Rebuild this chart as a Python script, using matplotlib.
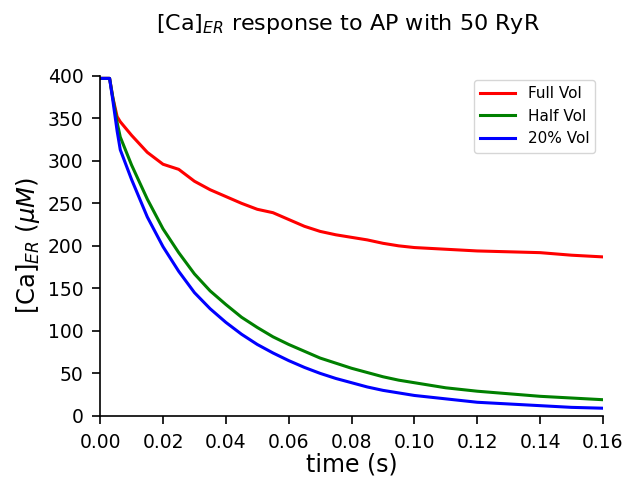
import matplotlib
matplotlib.use("Agg")
import matplotlib.pyplot as plt
import numpy as np

t = [0.0, 0.003, 0.004, 0.0054, 0.0064, 0.01, 0.015, 0.02, 0.025, 0.03, 0.035, 0.04,
     0.045, 0.05, 0.055, 0.06, 0.065, 0.07, 0.075, 0.08, 0.085, 0.09, 0.095, 0.1,
     0.105, 0.11, 0.115, 0.12, 0.13, 0.14, 0.15, 0.16]

full_vol = [397, 397, 375, 352, 346, 330, 310, 296, 290, 276, 266, 258,
            250, 243, 239, 231, 223, 217, 213, 210, 207, 203, 200, 198,
            197, 196, 195, 194, 193, 192, 189, 187]
half_vol = [397, 397, 375, 345, 328, 295, 255, 220, 192, 167, 147, 131,
            116, 104, 93, 84, 76, 68, 62, 56, 51, 46, 42, 39,
            36, 33, 31, 29, 26, 23, 21, 19]
small_vol = [397, 397, 372, 335, 313, 278, 234, 199, 170, 145, 126, 110,
             96, 84, 74, 65, 57, 50, 44, 39, 34, 30, 27, 24,
             22, 20, 18, 16, 14, 12, 10, 9]

fig = plt.figure(figsize=(6.38, 4.83), dpi=100)
ax = fig.add_axes([0.157, 0.139, 0.788, 0.704])

ax.plot(t, full_vol, color="red", lw=2.2, label="Full Vol")
ax.plot(t, half_vol, color="green", lw=2.2, label="Half Vol")
ax.plot(t, small_vol, color="blue", lw=2.2, label="20% Vol")

ax.set_xlim(0, 0.16)
ax.set_ylim(0, 400)
ax.set_xticks(np.arange(0, 0.161, 0.02))
ax.set_yticks(np.arange(0, 401, 50))
ax.tick_params(labelsize=13.5, length=6, width=1.2, pad=6)
for side in ["left", "bottom"]:
    ax.spines[side].set_linewidth(1.2)
ax.spines["top"].set_visible(False)
ax.spines["right"].set_visible(False)

ax.set_xlabel("time (s)", fontsize=17, labelpad=1)
ax.set_ylabel(r"[Ca]$_{ER}$ ($\mu M$)", fontsize=17.5, labelpad=4)
fig.suptitle(r"[Ca]$_{ER}$ response to AP with 50 RyR", fontsize=16,
             x=0.545, y=0.975)
ax.legend(loc="upper right", fontsize=11, handlelength=2.3,
          bbox_to_anchor=(1.0, 1.01))

fig.savefig("out.png", dpi=100)
